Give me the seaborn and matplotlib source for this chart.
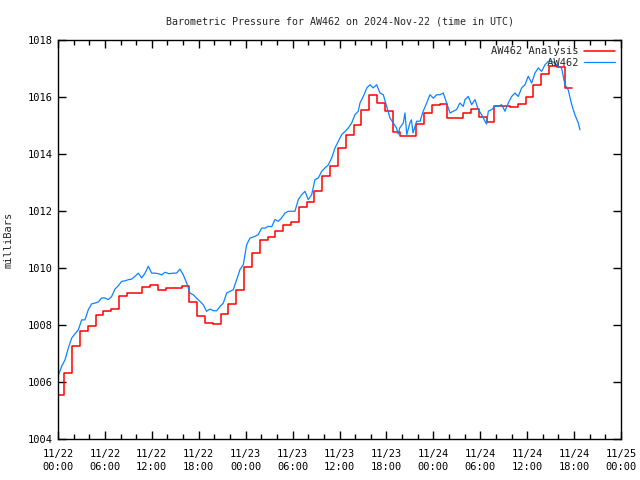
import numpy as np
import pandas as pd
import matplotlib
matplotlib.use("Agg")
import matplotlib.pyplot as plt
from matplotlib.ticker import MultipleLocator
import seaborn as sns

# hourly analysis steps (start hour of first step, then one value per hour from 0.8 h)
analysis_mb = [1005.55, 1006.32, 1007.28, 1007.80, 1007.97, 1008.36, 1008.50, 1008.56,
               1009.03, 1009.11, 1009.13, 1009.33, 1009.40, 1009.23, 1009.30, 1009.30,
               1009.36, 1008.80, 1008.33, 1008.06, 1008.02, 1008.39, 1008.74, 1009.23,
               1010.02, 1010.51, 1010.97, 1011.08, 1011.29, 1011.50, 1011.60, 1012.14,
               1012.30, 1012.69, 1013.22, 1013.58, 1014.21, 1014.66, 1015.01, 1015.53,
               1016.06, 1015.79, 1015.50, 1014.76, 1014.62, 1014.62, 1015.05, 1015.44,
               1015.73, 1015.75, 1015.25, 1015.25, 1015.43, 1015.57, 1015.29, 1015.11,
               1015.68, 1015.68, 1015.66, 1015.75, 1015.99, 1016.41, 1016.82, 1017.10,
               1017.05, 1016.31]
analysis_end = 65.7

# station observations (hours since 11/22 00:00 UTC, millibars)
obs_hours = [0.0, 0.47, 0.9, 1.32, 1.75, 2.17, 2.6, 3.03, 3.45, 3.88, 4.3, 4.73, 5.16, 5.58,
             6.0, 6.43, 6.86, 7.29, 7.72, 8.14, 8.57, 9.0, 9.42, 9.85, 10.27, 10.7, 11.13,
             11.55, 11.98, 12.4, 12.83, 13.26, 13.68, 14.2, 14.74, 15.17, 15.6, 16.02, 16.46,
             16.88, 17.3, 17.74, 18.16, 18.58, 19.0, 19.44, 19.86, 20.29, 20.72, 21.14, 21.57,
             22.0, 22.42, 22.85, 23.27, 23.7, 24.13, 24.55, 25.19, 25.6, 26.05, 26.47, 26.9,
             27.33, 27.75, 28.17, 28.6, 29.03, 29.45, 29.9, 30.3, 30.73, 31.16, 31.59, 32.0,
             32.44, 32.86, 33.29, 33.72, 34.14, 34.57, 35.0, 35.42, 35.84, 36.28, 36.7, 37.12,
             37.56, 37.98, 38.4, 38.62, 39.04, 39.5, 39.9, 40.3, 40.75, 41.18, 41.6, 42.03,
             42.46, 42.88, 43.3, 43.5, 43.7, 44.16, 44.37, 44.6, 45.0, 45.2, 45.4, 45.87, 46.3,
             46.7, 47.15, 47.57, 48.0, 48.43, 48.85, 49.27, 49.7, 50.13, 50.55, 50.98, 51.4,
             51.83, 52.05, 52.47, 52.9, 53.32, 53.75, 54.18, 54.6, 54.8, 55.03, 55.46, 55.88,
             56.3, 56.74, 57.16, 57.58, 58.02, 58.44, 58.86, 59.3, 59.72, 60.14, 60.57, 61.0,
             61.42, 61.85, 62.28, 62.7, 63.13, 63.55, 63.98, 64.4, 64.83, 65.25, 65.7, 66.1,
             66.53, 66.75]
obs_mb = [1006.20, 1006.55, 1006.78, 1007.19, 1007.54, 1007.69, 1007.83, 1008.18, 1008.18,
          1008.54, 1008.74, 1008.77, 1008.81, 1008.95, 1008.95, 1008.89, 1009.00, 1009.26,
          1009.38, 1009.53, 1009.55, 1009.59, 1009.61, 1009.71, 1009.82, 1009.65, 1009.82,
          1010.06, 1009.82, 1009.82, 1009.80, 1009.76, 1009.85, 1009.80, 1009.82, 1009.82,
          1009.96, 1009.76, 1009.47, 1009.12, 1009.06, 1008.94, 1008.83, 1008.71, 1008.48,
          1008.56, 1008.50, 1008.50, 1008.65, 1008.77, 1009.12, 1009.18, 1009.24, 1009.59,
          1009.94, 1010.12, 1010.82, 1011.05, 1011.11, 1011.17, 1011.40, 1011.40, 1011.46,
          1011.45, 1011.70, 1011.64, 1011.76, 1011.93, 1011.99, 1011.99, 1011.99, 1012.40,
          1012.57, 1012.69, 1012.40, 1012.57, 1013.10, 1013.16, 1013.39, 1013.51, 1013.62,
          1013.86, 1014.21, 1014.44, 1014.68, 1014.79, 1014.91, 1015.09, 1015.38, 1015.50,
          1015.79, 1016.02, 1016.32, 1016.43, 1016.32, 1016.43, 1016.14, 1016.08, 1015.67,
          1015.26, 1015.09, 1014.91, 1014.70, 1014.91, 1015.09, 1015.44, 1014.68, 1015.09,
          1015.20, 1014.74, 1015.15, 1015.15, 1015.50, 1015.79, 1016.08, 1015.96, 1016.08,
          1016.08, 1016.14, 1015.79, 1015.44, 1015.50, 1015.56, 1015.79, 1015.67, 1015.91,
          1016.02, 1015.73, 1015.91, 1015.56, 1015.38, 1015.15, 1015.05, 1015.50, 1015.56,
          1015.67, 1015.67, 1015.73, 1015.50, 1015.79, 1016.02, 1016.14, 1016.02, 1016.32,
          1016.43, 1016.73, 1016.49, 1016.84, 1017.02, 1016.90, 1017.13, 1017.25, 1017.25,
          1017.19, 1017.07, 1017.02, 1016.43, 1016.25, 1015.73, 1015.38, 1015.09, 1014.85]

tick_labels = ["11/22\n00:00", "11/22\n06:00", "11/22\n12:00", "11/22\n18:00",
               "11/23\n00:00", "11/23\n06:00", "11/23\n12:00", "11/23\n18:00",
               "11/24\n00:00", "11/24\n06:00", "11/24\n12:00", "11/24\n18:00",
               "11/25\n00:00"]

step_hours = np.concatenate([[0.0], np.arange(1, len(analysis_mb)) - 0.2, [analysis_end]])
analysis = pd.DataFrame({"hour": step_hours, "mb": analysis_mb + [analysis_mb[-1]]})
obs = pd.DataFrame({"hour": obs_hours, "mb": obs_mb})

sns.set_theme(style="ticks")
plt.rcParams["font.family"] = ["DejaVu Sans Mono"]
plt.rcParams["font.size"] = 7.5

fig = plt.figure(figsize=(6.4, 4.8), dpi=100)
ax = fig.add_axes([58 / 640, 41 / 480, 563 / 640, 399 / 480])

sns.lineplot(data=analysis, x="hour", y="mb", ax=ax, color="#ff0000", lw=1.1,
             drawstyle="steps-post", label="AW462 Analysis")
sns.lineplot(data=obs, x="hour", y="mb", ax=ax, color="#0a84ff", lw=0.9,
             label="         AW462")

ax.set_xlim(0, 72)
ax.set_ylim(1004, 1018)
ax.set_xticks(np.arange(0, 73, 6))
ax.set_xticklabels(tick_labels, linespacing=1.45)
ax.xaxis.set_minor_locator(MultipleLocator(2))
ax.yaxis.set_major_locator(MultipleLocator(2))
ax.tick_params(which="both", direction="in", top=True, right=True, colors="black",
               labelsize=7.5, width=1)
ax.tick_params(which="major", length=6, pad=4)
ax.tick_params(axis="x", which="major", pad=7)
ax.tick_params(which="minor", length=3.5)
for s in ax.spines.values():
    s.set_color("black")
    s.set_linewidth(1)

ax.set_xlabel("")
ax.set_ylabel("milliBars", fontsize=7.5, labelpad=10)
ax.set_title("Barometric Pressure for AW462 on 2024-Nov-22 (time in UTC)",
             fontsize=7.2, pad=11)

leg = ax.legend(loc="upper right", frameon=False, markerfirst=False, fontsize=7.5,
                handlelength=3.0, handletextpad=0.5, labelspacing=0.15,
                borderaxespad=0.2)

fig.savefig("out.png", dpi=100)
